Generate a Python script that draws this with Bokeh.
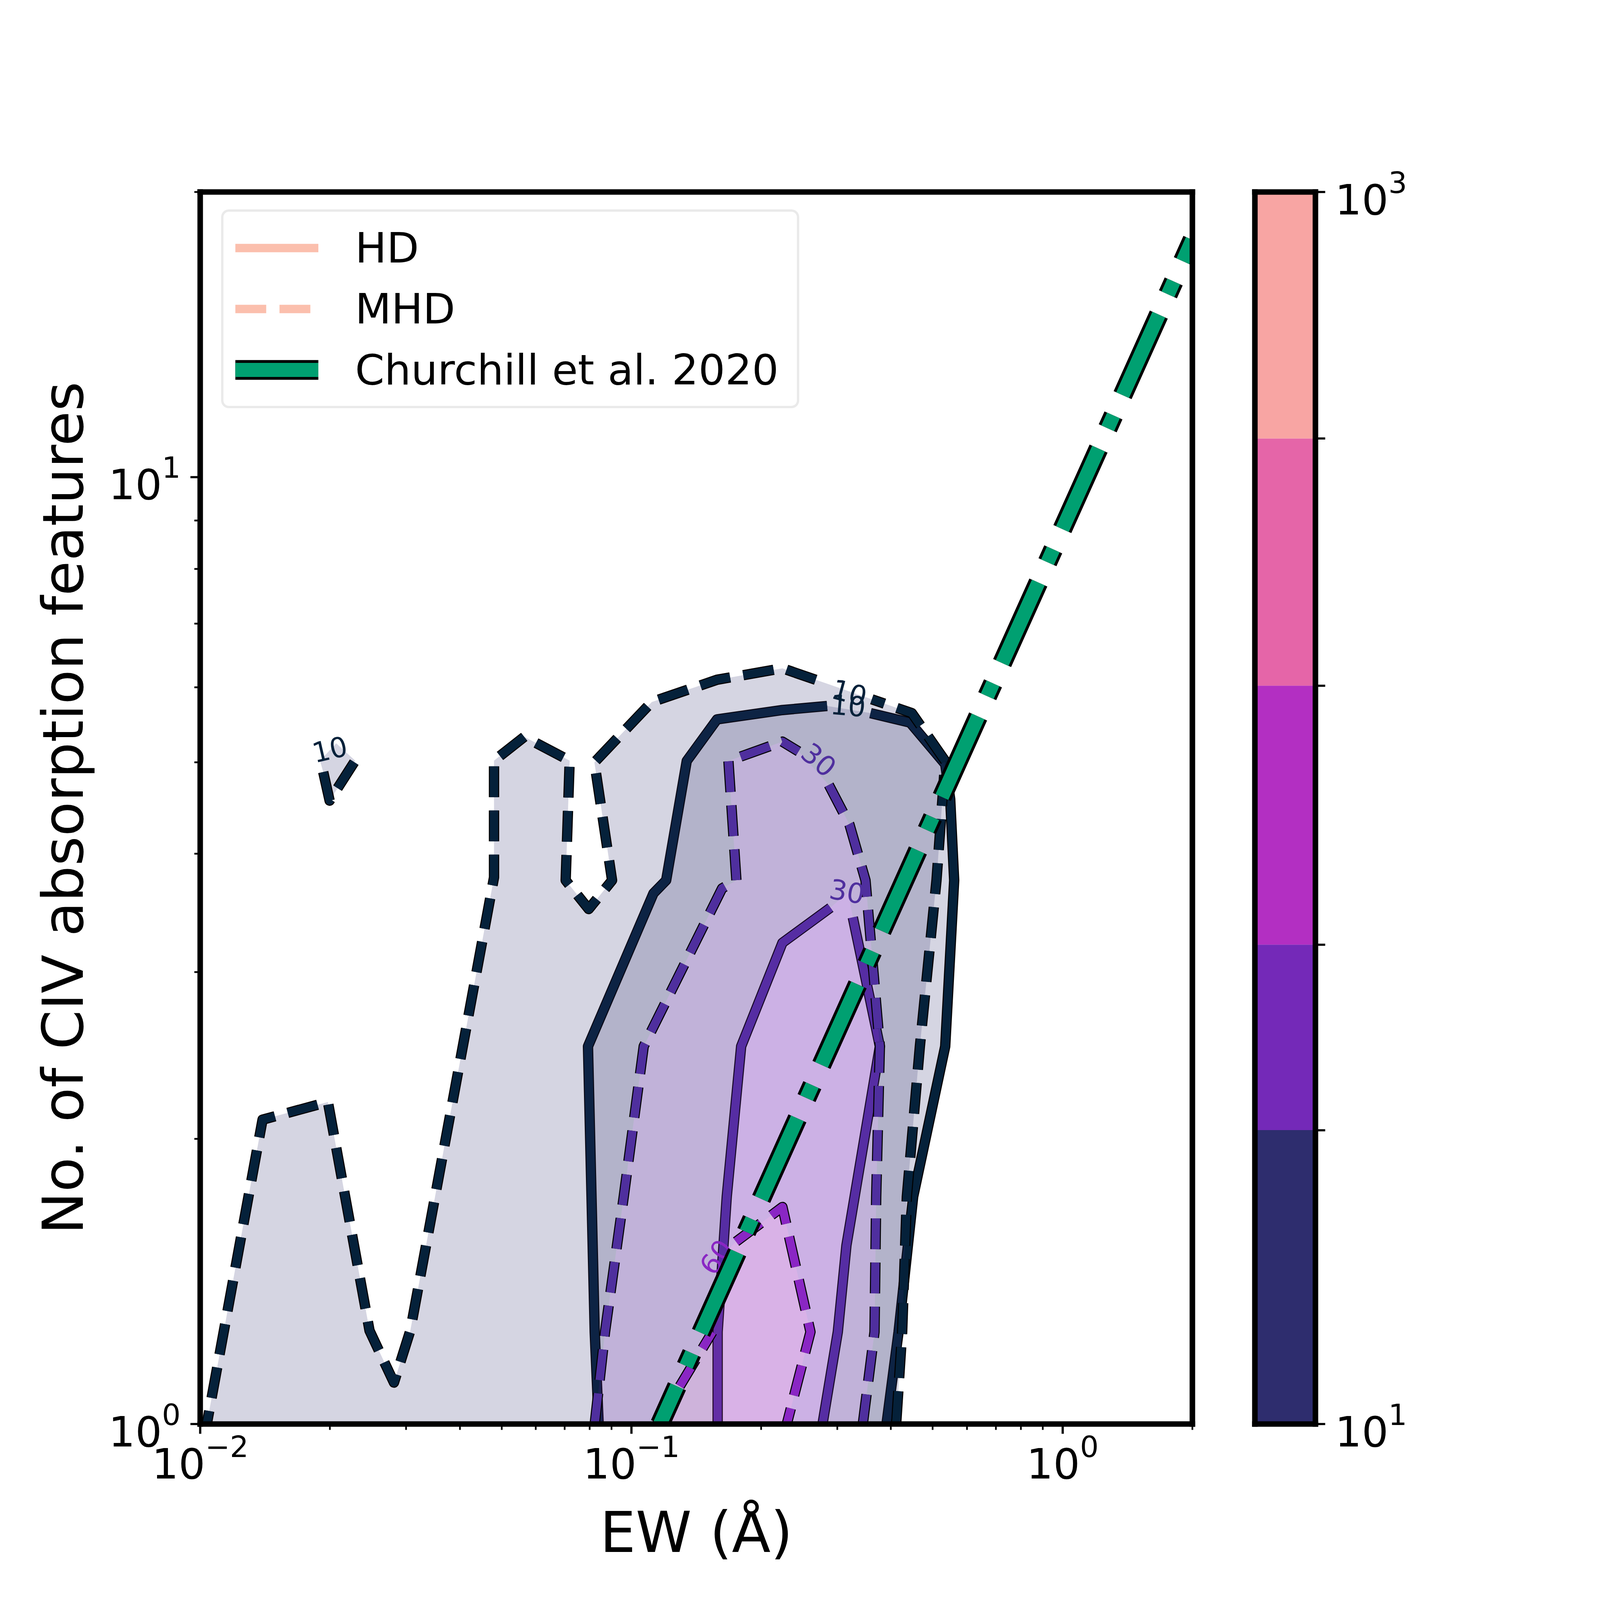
import numpy as np
from bokeh.core.properties import value
from bokeh.embed import file_html
from bokeh.layouts import row
from bokeh.models import FixedTicker, Legend, LegendItem, LinearAxis, LogTickFormatter, Range1d
from bokeh.plotting import figure
from bokeh.resources import INLINE

nan = float("nan")

# contour outlines, nan = gap in the drawn line (inline labels)
mhd10_x = [0.01036, 0.01395, 0.01978, 0.0247, 0.02814, 0.03071, 0.04802, 0.04802, 0.05645, 0.07192, 0.0704,
           0.07962, 0.0902, 0.08208, 0.1115, 0.158, 0.224, 0.2844, nan, 0.3611, 0.4471, 0.5343, 0.51, 0.4667,
           0.4353, 0.4246, 0.4112]
mhd10_y = [1, 2.096, 2.188, 1.255, 1.106, 1.255, 3.778, 5.018, 5.317, 5.018, 3.751,
           3.498, 3.751, 4.997, 5.787, 6.109, 6.281, 6.05, nan, 5.825, 5.633, 5.014, 3.751, 2.505,
           1.738, 1.251, 1]
island_x = [0.01929, 0.01996, 0.02288, nan, 0.02068, nan, 0.01896]
island_y = [4.881, 4.553, 5.018, nan, 5.234, nan, 5.018]
hd10_x = [0.08398, 0.08221, 0.07931, 0.1125, 0.1204, 0.1344, 0.158, 0.224, 0.2844, nan, 0.3585, 0.4431,
          0.5343, 0.5488, 0.5605, 0.5343, 0.4503, 0.4165, 0.3905]
hd10_y = [1, 1.251, 2.505, 3.634, 3.751, 5.014, 5.548, 5.675, 5.731, nan, 5.633, 5.504,
          4.976, 4.568, 3.751, 2.505, 1.738, 1.251, 1]
mhd30_x = [0.08221, 0.08687, 0.09599, 0.1068, 0.1623, 0.1752, 0.1679, 0.224, 0.2441, nan, 0.287, 0.3205,
           0.3491, 0.3769, 0.3696, 0.3663, 0.3441]
mhd30_y = [1, 1.251, 1.738, 2.505, 3.678, 3.751, 5.014, 5.255, 5.132, nan, 4.73, 4.295,
           3.751, 2.505, 1.738, 1.251, 1]
hd30_x = [0.1585, 0.1585, 0.1664, 0.1797, 0.224, 0.2895, nan, 0.3182, nan, 0.3262, 0.3769, 0.3153, 0.3011, 0.2775]
hd30_y = [1, 1.251, 1.738, 2.505, 3.222, 3.51, nan, 3.642, nan, 3.428, 2.505, 1.544, 1.251, 1]
mhd60_x = [0.1147, 0.1541, nan, 0.1694, nan, 0.1749, 0.224, 0.2602, 0.2293]
mhd60_y = [1, 1.251, nan, 1.535, nan, 1.558, 1.695, 1.251, 1]

churchill_x = [0.1165, 2.0]
churchill_y = [1, 17.8]

# inline contour labels
label_x = [0.3182, 0.3205, 0.01996, 0.2725, 0.3165, 0.1569]
label_y = [5.743, 5.925, 5.163, 5.033, 3.655, 1.502]
label_text = ["10", "10", "10", "30", "30", "60"]
label_angle = [-5, -15, 13, -40, -10, 55]

# colourbar
cbar_levels = [10, 30, 60, 158, 398, 1000]
cbar_colors = ["#2e2d6e", "#7429b8", "#b32fc2", "#e565a8", "#f8a5a3"]

x_major = [0.01, 0.1, 1]
x_minor = [0.02, 0.03, 0.04, 0.05, 0.06, 0.07, 0.08, 0.09, 0.2, 0.3, 0.4, 0.5, 0.6, 0.7, 0.8, 0.9, 2]
y_major = [1, 10]
y_minor = [2, 3, 4, 5, 6, 7, 8, 9, 20]

navy = "#05213a"
violet = "#4f2f9e"
magenta = "#8a26c4"
green = "#00a071"
salmon = "#fbbfad"
font = "DejaVu Sans"

# the photo of the page comes out 4096 wide and is then blown up to 4800, so
# every size below is given in reference pixels and scaled down by this
S = 4096 / 4800


def sz(v):
    return v * S


def dash(*lengths):
    return " ".join(str(round(v * S)) for v in lengths)


spine = sz(16.67)
dashed = dash(93, 40)
dashdot = dash(265, 67, 42, 67)


def solid(vals):
    return [v for v in vals if v == v]


def add_spine(fig, loc):
    axis = LinearAxis(ticker=FixedTicker(ticks=[]), axis_line_width=spine, axis_line_cap="square")
    fig.add_layout(axis, loc)


def band(fig, outer, hole, color):
    xs = [solid(outer[0])]
    ys = [solid(outer[1])]
    if hole is not None:
        xs.append(solid(hole[0]))
        ys.append(solid(hole[1]))
    fig.multi_polygons(xs=[[xs]], ys=[[ys]], fill_color=color, fill_alpha=0.2, line_color=None)


def contour(fig, x, y, color, pattern="solid", offset=0, edge=31, width=25):
    fig.line(x, y, line_color="black", line_width=sz(edge), line_dash=pattern, line_dash_offset=round(sz(offset)),
             line_join="round", line_cap="butt")
    fig.line(x, y, line_color=color, line_width=sz(width), line_dash=pattern, line_dash_offset=round(sz(offset)),
             line_join="round", line_cap="butt")


def style_axis(ax):
    ax.axis_line_width = spine
    ax.axis_line_cap = "square"
    ax.major_tick_in = 0
    ax.major_tick_out = round(sz(29))
    ax.minor_tick_in = 0
    ax.major_tick_line_width = sz(6.67)
    ax.major_label_standoff = round(sz(29))
    ax.major_label_text_font = font
    ax.major_label_text_font_size = f"{sz(126):.1f}px"
    ax.major_label_text_color = "black"
    ax.axis_label_text_font = font
    ax.axis_label_text_font_size = f"{sz(170):.1f}px"
    ax.axis_label_text_font_style = "normal"
    ax.axis_label_text_color = "black"


p = figure(
    x_axis_type="log", y_axis_type="log",
    x_range=Range1d(0.01, 2), y_range=Range1d(1, 20),
    frame_width=round(sz(2976)), frame_height=round(sz(3696)),
    min_border_left=512, min_border_top=491, min_border_bottom=435, min_border_right=85,
    x_axis_label="EW (Å)", y_axis_label="No. of CIV absorption features",
    toolbar_location=None, output_backend="svg",
)
p.grid.visible = False
p.outline_line_color = None

# HD first, MHD above it, same as the original stacking
band(p, (hd10_x, hd10_y), (hd30_x, hd30_y), cbar_colors[0])
band(p, (hd30_x, hd30_y), None, cbar_colors[1])
contour(p, hd10_x, hd10_y, navy)
contour(p, hd30_x, hd30_y, violet)

band(p, (mhd10_x, mhd10_y), (mhd30_x, mhd30_y), cbar_colors[0])
band(p, (island_x, island_y), None, cbar_colors[0])
band(p, (mhd30_x, mhd30_y), (mhd60_x, mhd60_y), cbar_colors[1])
band(p, (mhd60_x, mhd60_y), None, cbar_colors[2])
contour(p, mhd10_x, mhd10_y, navy, dashed, 53)
contour(p, island_x, island_y, navy, dashed)
contour(p, mhd30_x, mhd30_y, violet, dashed)
contour(p, mhd60_x, mhd60_y, magenta, dashed)

p.text(label_x, label_y, text=label_text, angle=np.radians(label_angle).tolist(),
       text_color=[navy, navy, navy, violet, violet, magenta], text_font=value(font),
       text_font_size=f"{sz(83):.1f}px", text_align="center", text_baseline="middle")

contour(p, churchill_x, churchill_y, green, dashdot, 141, edge=59, width=42)

# legend only handles, parked left of the visible range
key_x = [1e-4, 2e-4]
key_y = [1, 1]
hd_key = p.line(key_x, key_y, line_color=salmon, line_width=sz(25))
mhd_key = p.line(key_x, key_y, line_color=salmon, line_width=sz(25), line_dash=dashed)
ch_edge = p.line(key_x, key_y, line_color="black", line_width=sz(59))
ch_key = p.line(key_x, key_y, line_color=green, line_width=sz(42))
legend = Legend(
    items=[
        LegendItem(label="HD", renderers=[hd_key]),
        LegendItem(label="MHD", renderers=[mhd_key]),
        LegendItem(label="Churchill et al. 2020", renderers=[ch_edge, ch_key]),
    ],
    location=(54, 2600), orientation="vertical",
    glyph_width=round(sz(250)), glyph_height=round(sz(130)), label_height=round(sz(130)), label_width=round(sz(1290)),
    label_standoff=94, spacing=31, padding=30, margin=0,
    label_text_font=font, label_text_font_size=f"{sz(126):.1f}px", label_text_baseline="middle",
    label_text_color="black",
    border_line_color="#d5d5d5", border_line_width=sz(8), border_radius=round(sz(24)),
)
p.add_layout(legend)

for ax in p.xaxis + p.yaxis:
    style_axis(ax)
    ax.minor_tick_out = round(sz(17))
    ax.minor_tick_line_width = sz(5)
p.xaxis.ticker = FixedTicker(ticks=x_major, minor_ticks=x_minor)
p.yaxis.ticker = FixedTicker(ticks=y_major, minor_ticks=y_minor)
p.xaxis.formatter = LogTickFormatter()
p.yaxis.formatter = LogTickFormatter()
p.xaxis.major_label_standoff = 0
p.xaxis.axis_label_standoff = 50
p.yaxis.axis_label_standoff = 29
add_spine(p, "above")
add_spine(p, "right")

cb = figure(
    y_axis_type="log", y_axis_location="right",
    x_range=Range1d(0, 1), y_range=Range1d(cbar_levels[0], cbar_levels[-1]),
    frame_width=155, frame_height=round(sz(3696)),
    min_border_left=75, min_border_top=491, min_border_bottom=435, min_border_right=713,
    toolbar_location=None, output_backend="svg",
)
cb.grid.visible = False
cb.outline_line_color = None
cb.quad(left=0, right=1, bottom=cbar_levels[:-1], top=cbar_levels[1:], fill_color=cbar_colors, line_color=None)
cb.xaxis.ticker = FixedTicker(ticks=[])
cb.xaxis.axis_line_width = spine
cb.xaxis.axis_line_cap = "square"
cb.yaxis.ticker = FixedTicker(ticks=[cbar_levels[0], cbar_levels[-1]], minor_ticks=cbar_levels[1:-1])
cb.yaxis.formatter = LogTickFormatter()
style_axis(cb.yaxis[0])
cb.yaxis.minor_tick_out = round(sz(29))
cb.yaxis.minor_tick_line_width = sz(6.67)
add_spine(cb, "above")
add_spine(cb, "left")

open("out.html", "w").write(file_html(row(p, cb, spacing=0), INLINE))
